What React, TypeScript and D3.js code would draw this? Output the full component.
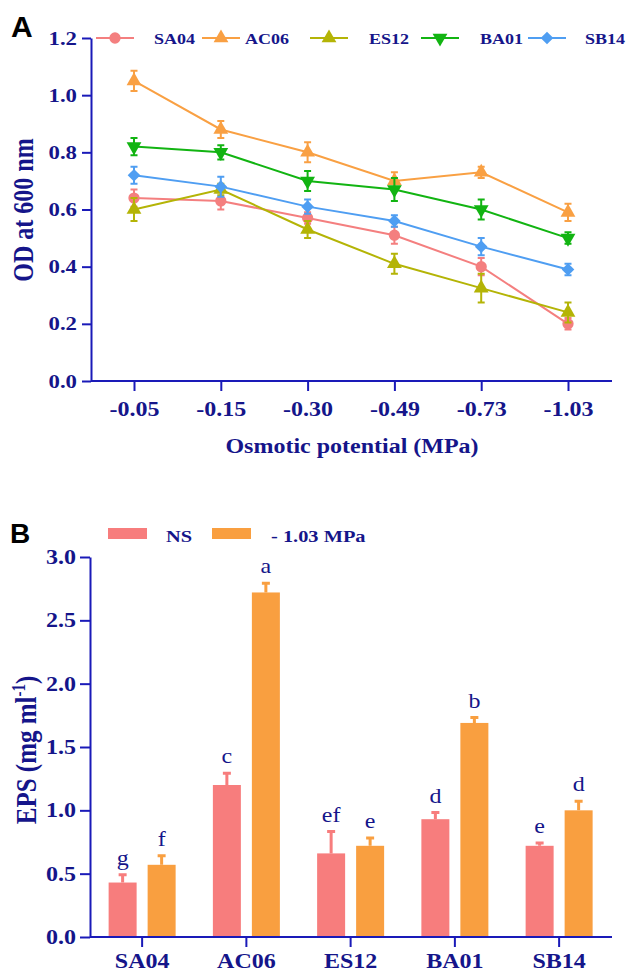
import React, { useRef, useEffect } from "react";
import * as d3 from "d3";

// panel A
const potentials = ["-0.05", "-0.15", "-0.30", "-0.49", "-0.73", "-1.03"];
const strains = ["SA04", "AC06", "ES12", "BA01", "SB14"];
const odMeans = [
  [0.64, 0.63, 0.57, 0.51, 0.4, 0.2],
  [1.05, 0.88, 0.8, 0.7, 0.73, 0.59],
  [0.6, 0.67, 0.53, 0.41, 0.325, 0.24],
  [0.82, 0.8, 0.7, 0.67, 0.6, 0.5],
  [0.72, 0.68, 0.61, 0.56, 0.47, 0.39],
];
const odErrors = [
  [0.03, 0.03, 0.02, 0.03, 0.03, 0.02],
  [0.035, 0.03, 0.035, 0.03, 0.02, 0.03],
  [0.04, 0.02, 0.03, 0.035, 0.05, 0.035],
  [0.03, 0.025, 0.035, 0.04, 0.035, 0.02],
  [0.03, 0.035, 0.025, 0.02, 0.03, 0.02],
];
const odTicks = [0, 0.2, 0.4, 0.6, 0.8, 1.0, 1.2];

// panel B
const treatments = ["NS", "- 1.03 MPa"];
const epsNS = [0.43, 1.2, 0.66, 0.93, 0.72];
const epsNSErr = [0.07, 0.1, 0.18, 0.06, 0.03];
const epsNSLetters = ["g", "c", "ef", "d", "e"];
const epsStress = [0.57, 2.72, 0.72, 1.69, 1.0];
const epsStressErr = [0.08, 0.08, 0.07, 0.05, 0.08];
const epsStressLetters = ["f", "a", "e", "b", "d"];
const epsTicks = [0, 0.5, 1.0, 1.5, 2.0, 2.5, 3.0];

const lineColors = ["#f47f7f", "#f9a043", "#b4b406", "#12b412", "#4f9ef2"];
const barColors = ["#f77d7d", "#f99f40"];
const axisColor = "#1a1ab8";
const textColor = "#15158a";
const serif = "'Liberation Serif', 'Times New Roman', serif";
const sx = 1.2; // the figure text is stretched sideways

function App() {
  const svgRef = useRef(null);

  useEffect(() => {
    const svg = d3.select(svgRef.current);
    svg.selectAll("*").remove();

    const label = (g, str, x, y, size, opts: any = {}) =>
      g.append("text").text(str)
        .attr("transform", opts.rotate
          ? `translate(${x},${y}) rotate(-90) scale(1,${sx})`
          : `translate(${x},${y}) scale(${opts.noStretch ? 1 : sx},1)`)
        .attr("text-anchor", opts.anchor || "start")
        .attr("font-family", opts.family || serif)
        .attr("font-weight", opts.normal ? "normal" : "bold")
        .attr("font-size", size)
        .attr("fill", opts.color || textColor);

    const styleAxis = (ax, size) => {
      ax.attr("font-family", null).attr("font-size", null);
      ax.selectAll("path, line").attr("stroke", axisColor).attr("stroke-width", 2);
      ax.selectAll("text").attr("fill", textColor).attr("font-family", serif)
        .attr("font-weight", "bold").attr("font-size", size)
        .attr("transform", `scale(${sx},1)`);
    };

    // ---------- Panel A ----------
    const gA = svg.append("g");
    const xA = d3.scalePoint().domain(potentials).range([134, 568]);
    const yA = d3.scaleLinear().domain([0, 1.2]).range([381, 38]);

    label(gA, "A", 11, 37, 30, { family: "'Liberation Sans', Arial, sans-serif", color: "#000", noStretch: true });

    const yAxisA = gA.append("g").attr("transform", "translate(91,0)")
      .call(d3.axisLeft(yA).tickValues(odTicks).tickFormat(d3.format(".1f")).tickSize(9).tickSizeOuter(0));
    const xAxisA = gA.append("g").attr("transform", "translate(0,381)")
      .call(d3.axisBottom(xA).tickSize(10).tickSizeOuter(0));
    xAxisA.select(".domain").attr("d", "M91,0H612");
    styleAxis(yAxisA, 19);
    styleAxis(xAxisA, 20);
    yAxisA.selectAll("text").attr("x", -14 / sx);
    xAxisA.selectAll("text").attr("dy", null).attr("y", 35);

    label(gA, "OD at 600 nm", 33, 210, 24, { rotate: true, anchor: "middle" });
    label(gA, "Osmotic potential (MPa)", 352, 453, 20, { anchor: "middle" });

    const symbols = [
      { type: d3.symbolCircle, size: 100, rot: 0 },
      { type: d3.symbolTriangle, size: 95, rot: 0 },
      { type: d3.symbolTriangle, size: 95, rot: 0 },
      { type: d3.symbolTriangle, size: 95, rot: 180 },
      { type: d3.symbolSquare, size: 80, rot: 45 },
    ];

    const lineGen = d3.line<number>()
      .x((d, i) => xA(potentials[i]) as number)
      .y((d) => yA(d));

    strains.forEach((s, si) => {
      const c = lineColors[si];
      const g = gA.append("g");
      g.append("path").datum(odMeans[si]).attr("d", lineGen)
        .attr("fill", "none").attr("stroke", c).attr("stroke-width", 2);
      odMeans[si].forEach((v, i) => {
        const x = xA(potentials[i]) as number;
        const e = odErrors[si][i];
        g.append("path")
          .attr("d", `M${x},${yA(v - e)}V${yA(v + e)}M${x - 3.5},${yA(v - e)}h7M${x - 3.5},${yA(v + e)}h7`)
          .attr("stroke", c).attr("stroke-width", 2).attr("fill", "none");
        g.append("path")
          .attr("d", d3.symbol().type(symbols[si].type).size(symbols[si].size)())
          .attr("transform", `translate(${x},${yA(v)}) rotate(${symbols[si].rot})`)
          .attr("fill", c);
      });
    });

    // legend A
    const legX = [115, 221, 329, 440, 547];
    const legTextX = [154, 245, 369, 480, 585];
    strains.forEach((s, si) => {
      const c = lineColors[si];
      gA.append("line").attr("x1", legX[si] - 19).attr("x2", legX[si] + 19)
        .attr("y1", 38).attr("y2", 38).attr("stroke", c).attr("stroke-width", 2);
      gA.append("path")
        .attr("d", d3.symbol().type(symbols[si].type).size(symbols[si].size)())
        .attr("transform", `translate(${legX[si]},38) rotate(${symbols[si].rot})`)
        .attr("fill", c);
      label(gA, s, legTextX[si], 44, 15);
    });

    // ---------- Panel B ----------
    const gB = svg.append("g");
    const x0 = d3.scaleBand().domain(strains).range([90, 611.25]);
    const x1 = d3.scaleBand().domain(treatments).range([0, 67]).paddingInner(0.282);
    const yB = d3.scaleLinear().domain([0, 3]).range([937, 557]);

    label(gB, "B", 10, 543, 28, { family: "'Liberation Sans', Arial, sans-serif", color: "#000", noStretch: true });

    const yAxisB = gB.append("g").attr("transform", "translate(90,0)")
      .call(d3.axisLeft(yB).tickValues(epsTicks).tickFormat(d3.format(".1f")).tickSize(10).tickSizeOuter(0));
    const xAxisB = gB.append("g").attr("transform", "translate(0,937)")
      .call(d3.axisBottom(x0).tickSize(10).tickSizeOuter(0));
    xAxisB.select(".domain").attr("d", "M90,0H612");
    styleAxis(yAxisB, 20);
    styleAxis(xAxisB, 20);
    yAxisB.selectAll("text").attr("x", -14 / sx);
    xAxisB.selectAll("text").attr("dy", null).attr("y", 31);

    const epsLabel = label(gB, "EPS (mg ml", 36, 750, 25, { rotate: true, anchor: "middle" });
    epsLabel.append("tspan").text("-1").attr("font-size", 15).attr("dy", -9);
    epsLabel.append("tspan").text(")").attr("dy", 9);

    const series = [
      { vals: epsNS, errs: epsNSErr, letters: epsNSLetters },
      { vals: epsStress, errs: epsStressErr, letters: epsStressLetters },
    ];
    series.forEach((ser, ti) => {
      strains.forEach((s, i) => {
        const left = (x0(s) as number) + x0.bandwidth() / 2 - 33.5 + (x1(treatments[ti]) as number);
        const w = x1.bandwidth();
        const v = ser.vals[i];
        const top = yB(v + ser.errs[i]);
        const cx = left + w / 2;
        gB.append("path").attr("d", `M${cx},${yB(v)}V${top + 1}M${cx - 4},${top + 1}h8`)
          .attr("stroke", barColors[ti]).attr("stroke-width", 3).attr("fill", "none");
        gB.append("rect").attr("x", left).attr("y", yB(v)).attr("width", w)
          .attr("height", yB(0) - yB(v) - 1).attr("fill", barColors[ti]);
        label(gB, ser.letters[i], cx, top - 9, 20, { anchor: "middle", normal: true });
      });
    });

    // legend B
    const legBX = [108, 212];
    const legBTextX = [166, 271];
    treatments.forEach((t, ti) => {
      gB.append("rect").attr("x", legBX[ti]).attr("y", 528).attr("width", 39).attr("height", 11)
        .attr("fill", barColors[ti]);
      label(gB, t, legBTextX[ti], 542, 17);
    });
  }, []);

  return (
    <svg ref={svgRef} width={629} height={974}
      style={{ position: "absolute", left: 0, top: 0, background: "#fff" }} />
  );
}

export default App;
